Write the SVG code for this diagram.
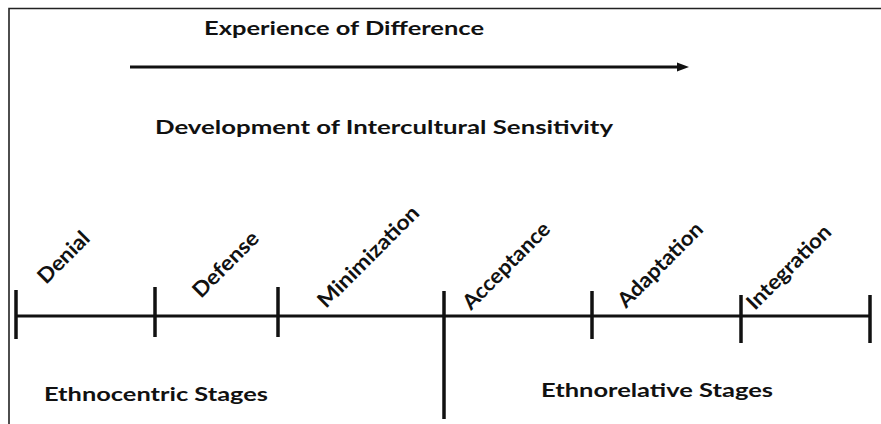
<svg xmlns="http://www.w3.org/2000/svg" width="881" height="424" viewBox="0 0 881 424">
<style>
.t{font-family:Lato,"Open Sans","Liberation Sans",sans-serif;font-weight:bold;font-size:18px;fill:#111}
.r{font-size:21px}
.ln{stroke:#111;stroke-width:3;fill:none}
.tk{stroke:#111;stroke-width:3.5;fill:none}
</style>
<rect width="881" height="424" fill="#fff"/>
<path d="M9,424 V8.5 H881" stroke="#222" stroke-width="1.6" fill="none"/>
<g id="connectors">
<line class="ln" x1="130" y1="67" x2="679" y2="67"/>
<polygon points="677,62.5 689,67 677,71.5" fill="#111"/>
<line class="ln" x1="16" y1="316" x2="870" y2="316"/>
</g>
<g id="ticks">
<line class="tk" x1="16" y1="290" x2="16" y2="339"/>
<line class="tk" x1="155" y1="287" x2="155" y2="337"/>
<line class="tk" x1="278" y1="287" x2="278" y2="337"/>
<line class="tk" x1="444" y1="291" x2="444" y2="419"/>
<line class="tk" x1="592" y1="291" x2="592" y2="339"/>
<line class="tk" x1="741" y1="295" x2="741" y2="343"/>
<line class="tk" x1="870" y1="295" x2="870" y2="343"/>
</g>
<g id="title-experience"><text class="t" x="204" y="35" textLength="280" lengthAdjust="spacingAndGlyphs">Experience of Difference</text></g>
<g id="title-development"><text class="t" x="155" y="134" textLength="458" lengthAdjust="spacingAndGlyphs">Development of Intercultural Sensitivity</text></g>
<g id="ethnocentric"><text class="t" x="44" y="401" textLength="224" lengthAdjust="spacingAndGlyphs">Ethnocentric Stages</text></g>
<g id="ethnorelative"><text class="t" x="541" y="397" textLength="232" lengthAdjust="spacingAndGlyphs">Ethnorelative Stages</text></g>
<g id="denial"><text class="t r" transform="translate(46,285) rotate(-45)" textLength="64" lengthAdjust="spacingAndGlyphs">Denial</text></g>
<g id="defense"><text class="t r" transform="translate(201,299) rotate(-45)" textLength="84" lengthAdjust="spacingAndGlyphs">Defense</text></g>
<g id="minimization"><text class="t r" transform="translate(326,309) rotate(-45)" textLength="134" lengthAdjust="spacingAndGlyphs">Minimization</text></g>
<g id="acceptance"><text class="t r" transform="translate(471,311) rotate(-45)" textLength="114" lengthAdjust="spacingAndGlyphs">Acceptance</text></g>
<g id="adaptation"><text class="t r" transform="translate(626,309) rotate(-45)" textLength="111" lengthAdjust="spacingAndGlyphs">Adaptation</text></g>
<g id="integration"><text class="t r" transform="translate(755,311) rotate(-45)" textLength="110" lengthAdjust="spacingAndGlyphs">Integration</text></g>
</svg>
